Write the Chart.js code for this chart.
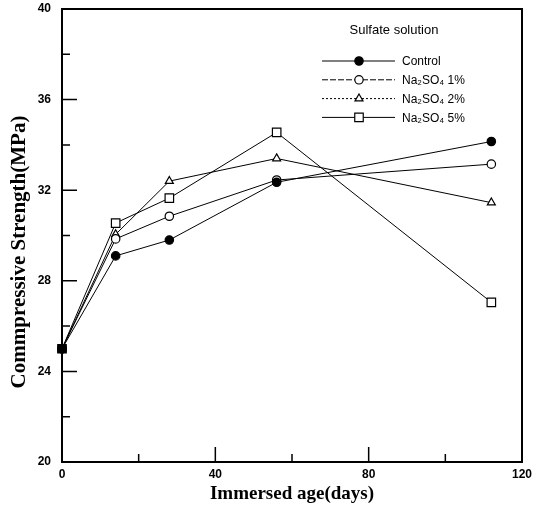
<!DOCTYPE html>
<html><head><meta charset="utf-8">
<script src="https://cdn.jsdelivr.net/npm/chart.js@4.4.0/dist/chart.umd.min.js"></script>
<style>html,body{margin:0;padding:0;background:#fff}</style>
</head><body>
<canvas id="c" width="542" height="506"></canvas>
<script>
const days = [0, 14, 28, 56, 112];
const seriesNames = ['Control', 'Na\u2082SO\u2084 1%', 'Na\u2082SO\u2084 2%', 'Na\u2082SO\u2084 5%'];
const control = [25, 29.1, 29.8, 32.35, 34.15];
const na1 = [25, 29.85, 30.85, 32.45, 33.15];
const na2 = [25, 30.05, 32.4, 33.4, 31.45];
const na5 = [25, 30.55, 31.65, 34.55, 27.05];
const xTicks = [0, 40, 80, 120];
const yTicks = [20, 24, 28, 32, 36, 40];
const legendTitle = 'Sulfate solution';
const xTitle = 'Immersed age(days)';
const yTitle = 'Commpressive Strength(MPa)';

const pts = vals => days.map((d, i) => ({x: d, y: vals[i]}));

const styles = [
  {pointStyle: 'circle', radius: 4.2, fill: '#000', dash: []},
  {pointStyle: 'circle', radius: 4.2, fill: '#fff', dash: [6, 2]},
  {pointStyle: 'triangle', radius: 4.6, fill: '#fff', dash: [2, 2]},
  {pointStyle: 'rect', radius: 6, fill: '#fff', dash: []}
];
const seriesVals = [control, na1, na2, na5];

const datasets = seriesVals.map((v, k) => ({
  label: seriesNames[k],
  data: pts(v),
  borderColor: '#000',
  borderWidth: 1,
  pointStyle: styles[k].pointStyle,
  pointRadius: styles[k].radius,
  pointBorderColor: '#000',
  pointBorderWidth: 1.2,
  pointBackgroundColor: c => (k === 3 && c.dataIndex === 0) ? '#000' : styles[k].fill,
  tension: 0,
  fill: false,
  clip: false,
  _dash: styles[k].dash
}));

const deco = {
  id: 'deco',
  afterDraw(chart) {
    const {ctx, chartArea: a, scales: {x, y}} = chart;
    ctx.save();
    ctx.strokeStyle = '#000';
    ctx.lineWidth = 2;
    ctx.strokeRect(a.left, a.top, a.right - a.left, a.bottom - a.top);
    ctx.lineWidth = 1.5;
    ctx.beginPath();
    xTicks.forEach((v, i) => {
      const p = x.getPixelForValue(v);
      ctx.moveTo(p, a.bottom); ctx.lineTo(p, a.bottom - 15);
      if (i < xTicks.length - 1) {
        const m = x.getPixelForValue((v + xTicks[i + 1]) / 2);
        ctx.moveTo(m, a.bottom); ctx.lineTo(m, a.bottom - 8);
      }
    });
    yTicks.forEach((v, i) => {
      const p = y.getPixelForValue(v);
      ctx.moveTo(a.left, p); ctx.lineTo(a.left + 15, p);
      if (i < yTicks.length - 1) {
        const m = y.getPixelForValue((v + yTicks[i + 1]) / 2);
        ctx.moveTo(a.left, m); ctx.lineTo(a.left + 8, m);
      }
    });
    ctx.stroke();

    // y title
    ctx.save();
    ctx.translate(20, 252);
    ctx.rotate(-Math.PI / 2);
    ctx.fillStyle = '#000';
    ctx.font = 'bold 21px "Liberation Serif", "Times New Roman", serif';
    ctx.textAlign = 'center';
    ctx.textBaseline = 'middle';
    ctx.fillText(yTitle, 0, 0);
    ctx.restore();

    // legend
    ctx.fillStyle = '#000';
    ctx.font = '13px "Liberation Sans", Arial, sans-serif';
    ctx.textAlign = 'center';
    ctx.textBaseline = 'middle';
    ctx.fillText(legendTitle, 394, 30);
    ctx.font = '12px "Liberation Sans", Arial, sans-serif';
    ctx.textAlign = 'left';
    chart.data.datasets.forEach((ds, k) => {
      const ry = 61 + k * 18.8;
      ctx.strokeStyle = '#000';
      ctx.lineWidth = 1;
      ctx.setLineDash(ds._dash);
      ctx.beginPath();
      ctx.moveTo(322, ry); ctx.lineTo(395, ry);
      ctx.stroke();
      ctx.setLineDash([]);
      ctx.fillStyle = styles[k].fill;
      ctx.lineWidth = 1.2;
      Chart.helpers.drawPoint(ctx, {pointStyle: ds.pointStyle, radius: ds.pointRadius, borderWidth: 1.2, rotation: 0}, 359, ry);
      ctx.fillStyle = '#000';
      ctx.fillText(ds.label, 402, ry + 1);
    });
    ctx.restore();
  }
};

new Chart(document.getElementById('c'), {
  type: 'line',
  data: {datasets},
  options: {
    responsive: false,
    animation: false,
    devicePixelRatio: 1,
    layout: {padding: {left: 0, right: 20, top: 9, bottom: 0}},
    plugins: {legend: {display: false}, tooltip: {enabled: false}},
    scales: {
      x: {
        type: 'linear', min: 0, max: 120,
        afterBuildTicks: s => { s.ticks = xTicks.map(v => ({value: v})); },
        afterFit: s => { s.height = 44; s.paddingLeft = 0; s.paddingRight = 0; },
        grid: {display: false, drawTicks: false},
        border: {display: false},
        ticks: {color: '#000', padding: 5, maxRotation: 0, autoSkip: false,
          font: {family: '"Liberation Sans", Arial, sans-serif', size: 12, weight: 'bold'}},
        title: {display: true, text: xTitle, color: '#000', padding: {top: 0, bottom: 1},
          font: {family: '"Liberation Serif", "Times New Roman", serif', size: 19, weight: 'bold'}}
      },
      y: {
        type: 'linear', min: 20, max: 40,
        afterBuildTicks: s => { s.ticks = yTicks.map(v => ({value: v})); },
        afterFit: s => { s.width = 62; s.paddingTop = 0; s.paddingBottom = 0; },
        grid: {display: false, drawTicks: false},
        border: {display: false},
        ticks: {color: '#000', padding: 11, autoSkip: false,
          font: {family: '"Liberation Sans", Arial, sans-serif', size: 12, weight: 'bold'}}
      }
    }
  },
  plugins: [deco]
});
</script>
</body></html>
